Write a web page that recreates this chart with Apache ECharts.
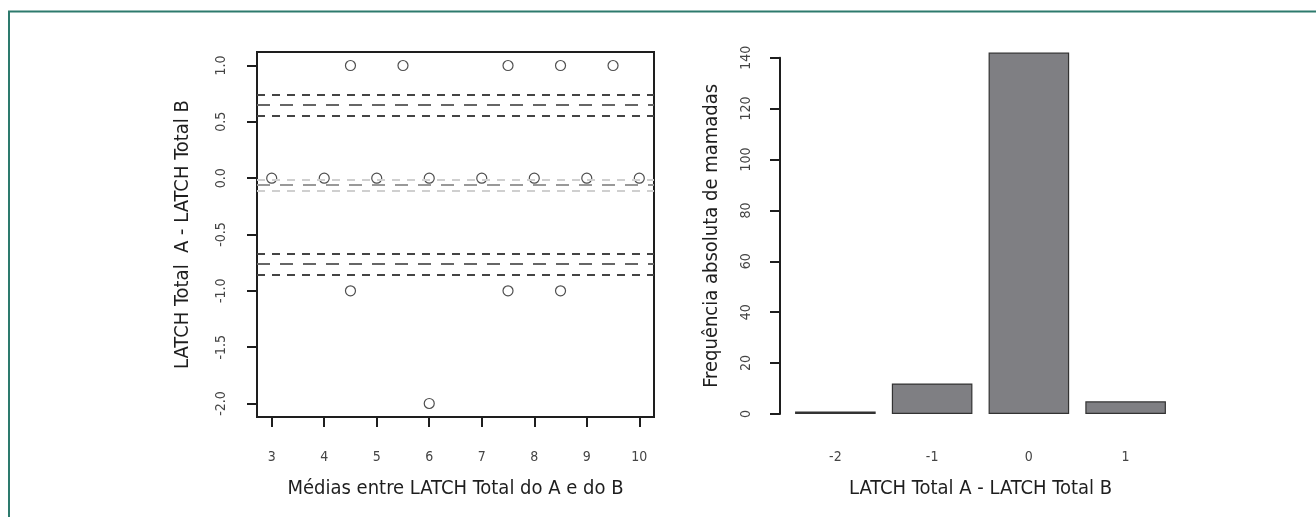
<!DOCTYPE html>
<html>
<head>
<meta charset="utf-8">
<script src="https://cdn.jsdelivr.net/npm/echarts@6/dist/echarts.min.js"></script>
<style>
html,body{margin:0;padding:0;background:#fff;}
#chart{width:1316px;height:517px;}
</style>
</head>
<body>
<div id="chart"></div>
<script>
// ---- Data: Bland-Altman (left) ----
const baX = [3, 4, 5, 6, 7, 8, 9, 10, 4.5, 5.5, 7.5, 8.5, 9.5, 4.5, 7.5, 8.5, 6];
const baY = [0, 0, 0, 0, 0, 0, 0, 0, 1, 1, 1, 1, 1, -1, -1, -1, -2];
const meanDiff = -0.06;
const meanCI = [-0.005, -0.11];
const upperLoA = 0.645;
const upperLoACI = [0.55, 0.745];
const lowerLoA = -0.76;
const lowerLoACI = [-0.665, -0.86];
const baXTicks = [3, 4, 5, 6, 7, 8, 9, 10];
const baYTicks = [-2.0, -1.5, -1.0, -0.5, 0.0, 0.5, 1.0];

// ---- Data: histogram of differences (right) ----
const diffCategories = ['-2', '-1', '0', '1'];
const diffCounts = [1, 12, 142, 5];
const countTicksMax = 140;

const FONT = "'Liberation Sans Narrow', 'DejaVu Sans Condensed', 'Liberation Sans', sans-serif";

// R-style 4% axis extension
function extend(lo, hi) { const r = hi - lo; return [lo - 0.04 * r, hi + 0.04 * r]; }
const xr = extend(Math.min(...baXTicks), Math.max(...baXTicks));
const yr = extend(Math.min(...baYTicks), Math.max(...baYTicks));

const points = baX.map((x, i) => [x, baY[i]]);

function hline(v, color, dash) {
  return { yAxis: v, lineStyle: { color: color, width: 2, type: dash } };
}

const chart = echarts.init(document.getElementById('chart'), null, { renderer: 'canvas' });

const option = {
  backgroundColor: '#ffffff',
  animation: false,
  textStyle: { fontFamily: FONT },
  grid: [
    { left: 257, top: 52, width: 397, height: 365, show: true, borderColor: '#1e1e1e', borderWidth: 2, backgroundColor: 'transparent' },
    { left: 787, top: 57.7, width: 387, height: 356.3 }
  ],
  xAxis: [
    {
      gridIndex: 0, type: 'value', min: xr[0], max: xr[1],
      name: 'Médias entre LATCH Total do A e do B', nameLocation: 'middle', nameGap: 62,
      nameTextStyle: { fontFamily: FONT, fontSize: 20, color: '#1e1e1e' },
      axisLine: { show: false, onZero: false },
      axisTick: { show: true, customValues: baXTicks, length: 10, lineStyle: { color: '#1e1e1e', width: 2 } },
      axisLabel: { customValues: baXTicks, margin: 33, fontFamily: FONT, fontSize: 14, color: '#444' },
      splitLine: { show: false }
    },
    {
      gridIndex: 1, type: 'category', data: diffCategories,
      name: 'LATCH Total A - LATCH Total B', nameLocation: 'middle', nameGap: 65,
      nameTextStyle: { fontFamily: FONT, fontSize: 20, color: '#1e1e1e' },
      axisLine: { show: false, onZero: false }, axisTick: { show: false },
      axisLabel: { margin: 36, fontFamily: FONT, fontSize: 14, color: '#444' },
      splitLine: { show: false }
    }
  ],
  yAxis: [
    {
      gridIndex: 0, type: 'value', min: yr[0], max: yr[1],
      name: 'LATCH Total  A - LATCH Total B', nameLocation: 'middle', nameGap: 64, nameRotate: 90,
      nameTextStyle: { fontFamily: FONT, fontSize: 20, color: '#1e1e1e' },
      axisLine: { show: false, onZero: false },
      axisTick: { show: true, customValues: baYTicks, length: 10, lineStyle: { color: '#1e1e1e', width: 2 } },
      axisLabel: { customValues: baYTicks, rotate: 90, margin: 29, fontFamily: FONT, fontSize: 14, color: '#444',
        formatter: v => v.toFixed(1) },
      splitLine: { show: false }
    },
    {
      gridIndex: 1, type: 'value', min: 0, max: countTicksMax, interval: 20, offset: 7,
      name: 'Frequência absoluta de mamadas', nameLocation: 'middle', nameGap: 58, nameRotate: 90,
      nameTextStyle: { fontFamily: FONT, fontSize: 20, color: '#1e1e1e' },
      axisLine: { show: true, onZero: false, lineStyle: { color: '#1e1e1e', width: 2 } },
      axisTick: { show: true, length: 10, lineStyle: { color: '#1e1e1e', width: 2 } },
      axisLabel: { rotate: 90, margin: 27, fontFamily: FONT, fontSize: 14, color: '#444' },
      splitLine: { show: false }
    }
  ],
  series: [
    {
      type: 'scatter', xAxisIndex: 0, yAxisIndex: 0, data: points, clip: false,
      symbol: 'circle', symbolSize: 10,
      itemStyle: { color: 'rgba(0,0,0,0)', borderColor: '#222', borderWidth: 1.2 },
      markLine: {
        silent: true, symbol: ['none', 'none'], label: { show: false }, animation: false,
        data: [
          hline(upperLoACI[0], '#444', [8, 7]),
          hline(upperLoACI[1], '#444', [8, 7]),
          hline(upperLoA, '#666', [13, 10]),
          hline(lowerLoACI[0], '#444', [8, 7]),
          hline(lowerLoACI[1], '#444', [8, 7]),
          hline(lowerLoA, '#666', [13, 10]),
          hline(meanCI[0], '#cfcfcf', [8, 7]),
          hline(meanCI[1], '#cfcfcf', [8, 7]),
          hline(meanDiff, '#999', [13, 10])
        ]
      },
      z: 3
    },
    {
      type: 'bar', xAxisIndex: 1, yAxisIndex: 1, data: diffCounts, clip: false,
      barCategoryGap: '16.7%',
      itemStyle: { color: '#7f7f83', borderColor: '#333', borderWidth: 1.2 }
    }
  ],
  graphic: [
    {
      type: 'polyline', silent: true,
      shape: { points: [[9, 517], [9, 11.5], [1316, 11.5]] },
      style: { stroke: '#2d7a6d', lineWidth: 2, fill: null }
    }
  ]
};

chart.setOption(option);
</script>
</body>
</html>
